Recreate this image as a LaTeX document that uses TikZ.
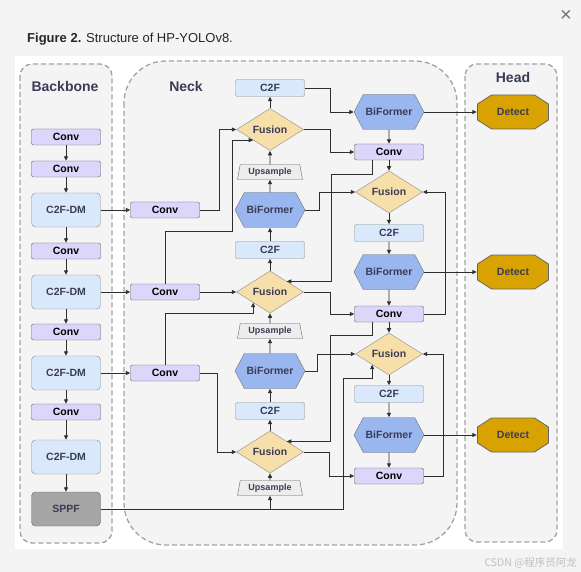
\documentclass[tikz,border=0pt]{standalone}
\usepackage{fontspec}
\setmainfont{Liberation Sans}
\newfontfamily\cjkfont{Noto Sans CJK SC}
\usepackage{tikz}
\usetikzlibrary{arrows.meta,shapes.geometric,shapes.symbols}
\definecolor{pagebg}{HTML}{F4F4F4}
\definecolor{slate}{HTML}{3B3B58}
\definecolor{convfill}{HTML}{DCD6FA}
\definecolor{c2ffill}{HTML}{DAE8FC}
\definecolor{biffill}{HTML}{9AB6EE}
\definecolor{fusfill}{HTML}{F7DFAA}
\definecolor{detfill}{HTML}{D8A300}
\definecolor{linegray}{HTML}{2E2E2E}
\definecolor{dashgray}{HTML}{A3A3A3}

\begin{document}
\begin{tikzpicture}[x=1pt,y=-1pt,>={Triangle[length=4.5pt,width=4pt]},
    font=\fontsize{10.5}{12}\selectfont\bfseries,
    every node/.style={inner sep=0pt,text=slate},
    region/.style={draw=dashgray,fill=pagebg,line width=1.3pt,dash pattern=on 5pt off 3pt,rounded corners=12pt},
    section/.style={font=\fontsize{14}{16}\selectfont\bfseries},
    conv/.style={draw=black!65,fill=convfill,rounded corners=2pt,minimum width=69pt,minimum height=16pt,text=black},
    c2f/.style={draw=black!45,fill=c2ffill,rounded corners=2pt,minimum width=69pt,minimum height=17pt},
    c2fdm/.style={draw=black!45,fill=c2ffill,rounded corners=4pt,minimum width=69pt,minimum height=34pt},
    sppfbox/.style={draw=black!60,fill=black!35,rounded corners=4pt,minimum width=69pt,minimum height=34pt},
    biformer/.style={draw=black!55,fill=biffill,signal,signal to=east and west,signal pointer angle=124,minimum width=70pt,minimum height=35pt},
    fusion/.style={draw=black!45,fill=fusfill,diamond,minimum width=67pt,minimum height=33pt},
    upsample/.style={draw=black!60,fill=black!7,trapezium,trapezium left angle=72,trapezium right angle=72,trapezium stretches body,minimum width=65pt,minimum height=15pt,font=\fontsize{9}{10}\selectfont\bfseries},
    detect/.style={rectangle,minimum width=72pt,minimum height=35pt,
      path picture={\filldraw[draw=black!60,fill=detfill,line width=0.8pt]
        ([shift={(14.5pt,-0.5pt)}]path picture bounding box.north west) -- ([shift={(-14.5pt,-0.5pt)}]path picture bounding box.north east)
        -- ([shift={(-0.5pt,-9.5pt)}]path picture bounding box.north east) -- ([shift={(-0.5pt,9.5pt)}]path picture bounding box.south east)
        -- ([shift={(-14.5pt,0.5pt)}]path picture bounding box.south east) -- ([shift={(14.5pt,0.5pt)}]path picture bounding box.south west)
        -- ([shift={(0.5pt,9.5pt)}]path picture bounding box.south west) -- ([shift={(0.5pt,-9.5pt)}]path picture bounding box.north west) -- cycle;}},
    link/.style={draw=linegray,line width=0.9pt}]
  \useasboundingbox (0,0) rectangle (581,572);
  \fill[pagebg] (0,0) rectangle (581,572);
  \fill[white] (15,56) rectangle (563,549);
  \node[anchor=base west,font=\fontsize{13}{15}\selectfont,text=black!85] (title) at (27,43) {\textbf{Figure 2.} Structure of HP-YOLOv8.};
  \node[font=\fontsize{20}{20}\selectfont,text=black!55] (close) at (566,16) {×};
  % dashed regions
  \draw[region] (20,64) rectangle (112,543);
  \draw[region,rounded corners=42pt] (124,61) rectangle (457,545);
  \draw[region] (465,64) rectangle (557,542);
  \node[section] (lbback) at (65,86) {Backbone};
  \node[section] (lbneck) at (186,86) {Neck};
  \node[section] (lbhead) at (513,77) {Head};
  % backbone
  \node[conv] (bconv1) at (66,137) {Conv};
  \node[conv] (bconv2) at (66,169) {Conv};
  \node[c2fdm] (bc2f1) at (66,210) {C2F-DM};
  \node[conv] (bconv3) at (66,251) {Conv};
  \node[c2fdm] (bc2f2) at (66,292) {C2F-DM};
  \node[conv] (bconv4) at (66,332) {Conv};
  \node[c2fdm] (bc2f3) at (66,373) {C2F-DM};
  \node[conv] (bconv5) at (66,412) {Conv};
  \node[c2fdm] (bc2f4) at (66,457) {C2F-DM};
  \node[sppfbox] (sppf) at (66,509) {SPPF};
  % neck, left column
  \node[conv] (nconv1) at (165,210) {Conv};
  \node[conv] (nconv2) at (165,292) {Conv};
  \node[conv] (nconv3) at (165,373) {Conv};
  % neck, top-down column
  \node[c2f] (c2fa) at (270,88) {C2F};
  \node[fusion] (fusa) at (270,129.5) {Fusion};
  \node[upsample] (upa) at (270,172) {Upsample};
  \node[biformer] (bifa) at (270,210) {BiFormer};
  \node[c2f] (c2fb) at (270,250) {C2F};
  \node[fusion] (fusb) at (270,292) {Fusion};
  \node[upsample] (upb) at (270,331) {Upsample};
  \node[biformer] (bifb) at (270,371) {BiFormer};
  \node[c2f] (c2fc) at (270,411) {C2F};
  \node[fusion] (fusc) at (270,452) {Fusion};
  \node[upsample] (upc) at (270,488) {Upsample};
  % neck, bottom-up column
  \node[biformer] (bifr1) at (389,112) {BiFormer};
  \node[conv] (convr1) at (389,152) {Conv};
  \node[fusion] (fusr1) at (389,192) {Fusion};
  \node[c2f] (c2fr1) at (389,233) {C2F};
  \node[biformer] (bifr2) at (389,272) {BiFormer};
  \node[conv] (convr2) at (389,314) {Conv};
  \node[fusion] (fusr2) at (389,354) {Fusion};
  \node[c2f] (c2fr2) at (389,394) {C2F};
  \node[biformer] (bifr3) at (389,435) {BiFormer};
  \node[conv] (convr3) at (389,476) {Conv};
  % head
  \node[detect] (det1) at (513,112) {Detect};
  \node[detect] (det2) at (513,272) {Detect};
  \node[detect] (det3) at (513,435) {Detect};
  % straight links
  \foreach \a/\b in {bconv1/bconv2,bconv2/bc2f1,bc2f1/bconv3,bconv3/bc2f2,bc2f2/bconv4,bconv4/bc2f3,bc2f3/bconv5,bconv5/bc2f4,bc2f4/sppf,
      upc/fusc,fusc/c2fc,c2fc/bifb,bifb/upb,upb/fusb,fusb/c2fb,c2fb/bifa,bifa/upa,upa/fusa,fusa/c2fa,
      bifr1/convr1,convr1/fusr1,fusr1/c2fr1,c2fr1/bifr2,bifr2/convr2,convr2/fusr2,fusr2/c2fr2,c2fr2/bifr3,bifr3/convr3}
    \draw[link,->] (\a) -- (\b);
  \foreach \a/\b in {bc2f1/nconv1,bc2f2/nconv2,bc2f3/nconv3,nconv2/fusb,bifr1/det1,bifr2/det2,bifr3/det3}
    \draw[link,->] (\a.east) -- (\b.west);
  % lateral links
  \draw[link,->] (nconv1.east) -- ++(19.5,0) |- (fusa.west);
  \draw[link,->] (nconv2.north) -- ++(0,-52) -- ++(67,0) |- (fusa.south west);
  \draw[link,->] (nconv3.north) -- ++(0,-51) -| (fusb.south west);
  \draw[link,->] (nconv3.east) -- ++(17.5,0) |- (fusc.west);
  \draw[link,->] (sppf.east) -| (upc.south);
  \draw[link,->] (sppf.east) -- ++(243,0) -- ++(0,-131) -| (fusr2.south west);
  \draw[link,->] (c2fa.east) -- ++(26,0) |- (bifr1.west);
  \draw[link,->] (fusa.east) -- ++(27,0) |- (convr1.west);
  \draw[link,->] ([xshift=-17pt]convr1.south) -- ++(0,14) -- ++(-41,0) |- (fusb.north east);
  \draw[link,->] (bifa.east) -- ++(14,0) |- (fusr1.west);
  \draw[link,->] (convr2.east) -- ++(22,0) |- (fusr1.east);
  \draw[link,->] (fusb.east) -- ++(27,0) |- (convr2.west);
  \draw[link,->] ([xshift=-17pt]convr2.south) -- ++(0,13) -- ++(-42,0) |- (fusc.north east);
  \draw[link,->] (bifb.east) -- ++(12,0) |- (fusr2.west);
  \draw[link,->] (convr3.east) -- ++(20,0) |- (fusr2.east);
  \draw[link,->] (fusc.east) -- ++(26,0) |- (convr3.west);
  \node[anchor=base east,font=\cjkfont\fontsize{10.5}{12}\selectfont,text=black!25] (mark) at (577,566) {CSDN @程序员阿龙};
\end{tikzpicture}
\end{document}
